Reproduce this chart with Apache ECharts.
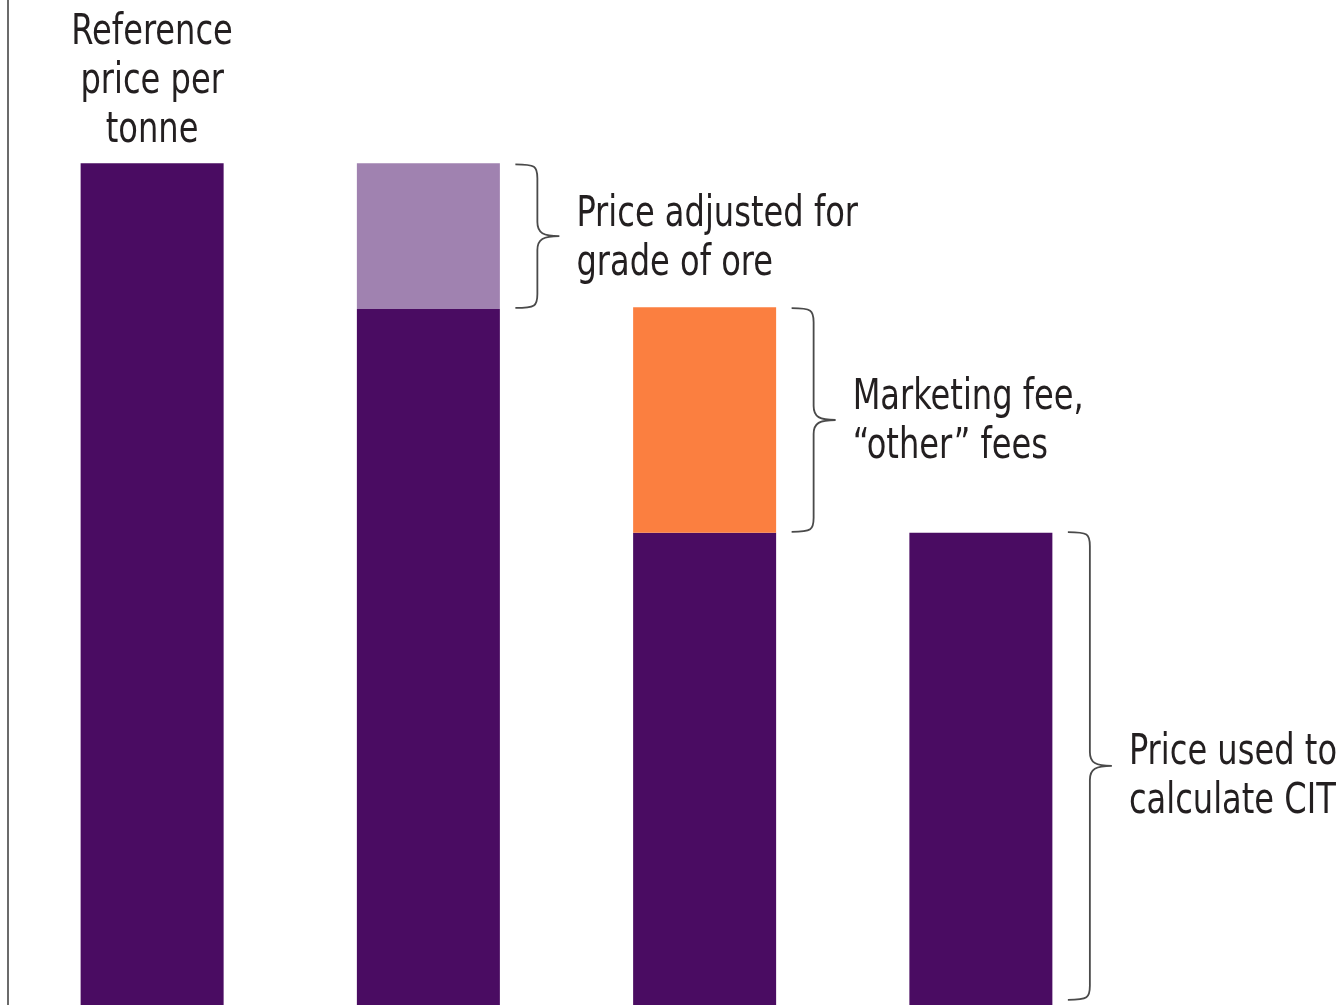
<!DOCTYPE html>
<html>
<head>
<meta charset="utf-8">
<script src="https://cdn.jsdelivr.net/npm/echarts@6/dist/echarts.min.js"></script>
<style>
html,body{margin:0;padding:0;background:#fff;}
#chart{width:1344px;height:1005px;}
</style>
</head>
<body>
<div id="chart"></div>
<script>
// ---- data (index: reference price per tonne = 100) ----
const categories = ['Reference price', 'Grade adjusted', 'After fees', 'CIT price'];
const baseValues = [100, 82.7, 56.1, 56.1];          // dark purple part
const gradeAdjustment = [null, 17.3, null, null];    // light purple part
const feeDeduction = [null, null, 26.8, null];       // orange part
const topLabel = 'Reference\nprice per\ntonne';
// braces: [category index, low value, high value, label]
const braces = [
  [1, 82.7, 100, 'Price adjusted for\ngrade of ore'],
  [2, 56.1, 82.9, 'Marketing fee,\n\u201Cother\u201D fees'],
  [3, 0.5, 56.3, 'Price used to\ncalculate CIT']
];

const FONT = '"DejaVu Sans Condensed", "Liberation Sans Narrow", "Roboto", sans-serif';
const TEXT = '#231f20';
const SX = 0.85;

const chart = echarts.init(document.getElementById('chart'), null, {renderer: 'canvas'});

chart.setOption({
  animation: false,
  backgroundColor: '#fff',
  grid: {left: 14, width: 1105, top: 0, bottom: 0, containLabel: false},
  xAxis: {
    type: 'category', data: categories,
    axisLine: {show: false}, axisTick: {show: false}, axisLabel: {show: false}
  },
  yAxis: {
    type: 'value', min: 0, max: 119.4, offset: 6,
    axisLine: {show: true, lineStyle: {color: '#6b6b6b', width: 2}},
    axisTick: {show: false}, axisLabel: {show: false}, splitLine: {show: false}
  },
  series: [
    {
      type: 'bar', stack: 'w', barWidth: 143,
      itemStyle: {color: '#4a0c62'},
      data: baseValues
    },
    {
      type: 'bar', stack: 'w', barWidth: 143,
      itemStyle: {color: '#a082b0'},
      data: gradeAdjustment
    },
    {
      type: 'bar', stack: 'w', barWidth: 143,
      itemStyle: {color: '#fb7f40'},
      data: feeDeduction
    },
    {
      // title label above the first bar
      type: 'custom',
      data: [[0, baseValues[0]]],
      z: 10,
      renderItem: function (params, api) {
        const p = api.coord([api.value(0), api.value(1)]);
        return {
          type: 'text',
          x: p[0], y: p[1] - 8, scaleX: SX,
          style: {
            text: topLabel, font: '42px ' + FONT, lineHeight: 49,
            fill: TEXT, align: 'center', verticalAlign: 'bottom'
          }
        };
      }
    },
    {
      type: 'custom',
      data: braces,
      z: 10,
      renderItem: function (params, api) {
        const ci = api.value(0);
        const pLow = api.coord([ci, api.value(1)]);
        const pHigh = api.coord([ci, api.value(2)]);
        const x0 = pLow[0] + 87;
        const xv = x0 + 22;
        const xt = x0 + 44;
        const yT = pHigh[1] + 1;
        const yB = pLow[1] - 1;
        const ym = (yT + yB) / 2;
        const r = 14;
        const path =
          'M' + x0 + ' ' + yT +
          ' C' + (xv - 2) + ' ' + yT + ' ' + xv + ' ' + (yT + 2) + ' ' + xv + ' ' + (yT + r) +
          ' L' + xv + ' ' + (ym - r) +
          ' C' + xv + ' ' + (ym - 3) + ' ' + (xv + 6) + ' ' + ym + ' ' + xt + ' ' + ym +
          ' C' + (xv + 6) + ' ' + ym + ' ' + xv + ' ' + (ym + 3) + ' ' + xv + ' ' + (ym + r) +
          ' L' + xv + ' ' + (yB - r) +
          ' C' + xv + ' ' + (yB - 2) + ' ' + (xv - 2) + ' ' + yB + ' ' + x0 + ' ' + yB;
        return {
          type: 'group',
          children: [
            {
              type: 'path',
              shape: {pathData: path},
              style: {fill: 'none', stroke: '#4a4a4a', lineWidth: 1.8}
            },
            {
              type: 'text',
              x: pLow[0] + 148, y: ym + 3 + (params.dataIndex === 2 ? 9 : 0), scaleX: SX,
              style: {
                text: braces[params.dataIndex][3],
                font: '42px ' + FONT, lineHeight: 49,
                fill: TEXT, verticalAlign: 'middle', align: 'left'
              }
            }
          ]
        };
      }
    }
  ]
});
</script>
</body>
</html>
